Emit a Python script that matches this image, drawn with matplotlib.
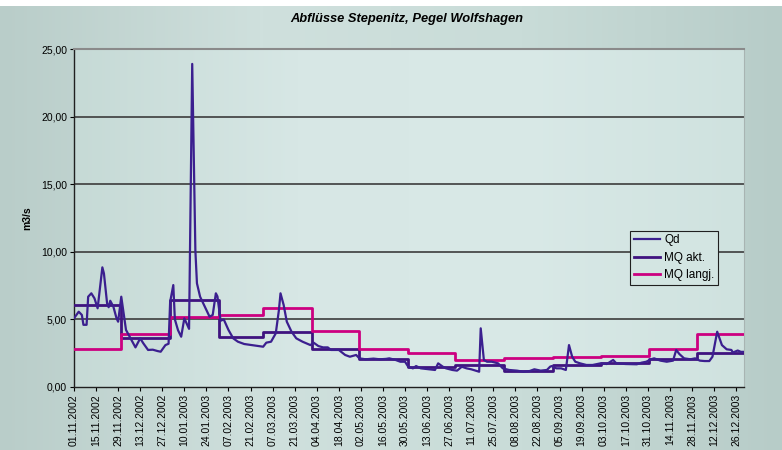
import numpy as np
import pandas as pd
import matplotlib
matplotlib.use("Agg")
import matplotlib.pyplot as plt
from matplotlib.colors import LinearSegmentedColormap

plt.rcParams['font.family'] = ['Liberation Sans', 'DejaVu Sans']

start = pd.Timestamp('2002-11-01')

# daily discharge Qd, read at turning points (day offset from 01.11.2002, m3/s)
qd_days = [0, 3, 5, 6, 8, 9, 11, 13, 15, 18, 19, 21, 22, 23, 25, 27, 28, 30,
           33, 37, 39, 42, 44, 47, 50, 53, 55, 58, 60, 61, 63, 64, 66, 68, 70,
           73, 75, 77, 78, 80, 83, 86, 88, 90, 91, 93, 95, 98, 101, 104, 108,
           113, 117, 120, 122, 125, 128, 130, 131, 133, 135, 138, 141, 145,
           150, 152, 155, 158, 161, 163, 168, 172, 175, 179, 181, 185, 190,
           194, 198, 200, 204, 207, 210, 212, 215, 217, 220, 225, 229, 231,
           234, 236, 240, 243, 246, 249, 252, 257, 258, 260, 262, 265, 269,
           272, 276, 281, 285, 289, 292, 296, 300, 302, 303, 306, 309, 312,
           314, 316, 318, 321, 325, 329, 334, 338, 342, 344, 350, 357, 360,
           363, 366, 368, 372, 376, 380, 382, 384, 387, 391, 394, 397, 400,
           403, 405, 408, 411, 414, 417, 418, 421, 423, 425]
qd_vals = [5.08, 5.57, 5.33, 4.60, 4.60, 6.68, 6.93, 6.56, 5.82, 8.85, 8.40,
           6.19, 5.90, 6.38, 5.94, 5.08, 4.83, 6.68,
           4.22, 3.35, 2.93, 3.60, 3.23, 2.74, 2.76, 2.66, 2.61, 3.10, 3.20,
           6.30, 7.54, 5.00, 4.20, 3.72, 5.08,
           4.30, 23.9, 10.1, 7.67, 6.68, 5.94, 5.20, 5.33, 6.93, 6.70, 4.90,
           5.00, 4.22, 3.60, 3.35, 3.18,
           3.10, 3.03, 2.98, 3.28, 3.35, 3.97, 5.70, 6.93, 6.07, 4.83, 4.09,
           3.60, 3.35,
           3.10, 3.28, 3.03, 2.93, 2.93, 2.74, 2.74, 2.37, 2.24, 2.37, 2.12,
           2.05, 2.10,
           2.05, 2.08, 2.12, 2.00, 1.87, 1.87, 1.50, 1.38, 1.55, 1.38, 1.31,
           1.26, 1.75,
           1.50, 1.38, 1.26, 1.21, 1.50, 1.38, 1.31, 1.13, 4.34, 2.00, 1.87,
           1.87, 1.75,
           1.38, 1.26, 1.21, 1.13, 1.18, 1.31, 1.21, 1.26, 1.50, 1.55, 1.38,
           1.38, 1.26,
           3.10, 2.24, 1.87, 1.75, 1.63, 1.63, 1.75, 1.70, 2.00, 1.75, 1.70,
           1.68, 1.80,
           1.87, 2.05, 2.12, 1.95, 1.87, 1.95, 2.74, 2.44, 2.12, 2.05, 2.12,
           1.95, 1.92,
           1.92, 2.24, 4.09, 3.10, 2.79, 2.74, 2.55, 2.70, 2.60, 2.60]

# monthly mean values (Nov 2002 .. Dec 2003)
months = pd.date_range('2002-11-01', '2003-12-01', freq='MS')
mq_akt = [6.10, 3.60, 6.45, 3.70, 4.05, 2.80, 2.05, 1.45, 1.60, 1.15,
          1.63, 1.75, 2.05, 2.54]
mq_langj = [2.80, 3.92, 5.15, 5.30, 5.82, 4.17, 2.79, 2.49, 1.99, 2.12,
            2.19, 2.29, 2.79, 3.92]

end_day = (pd.Timestamp('2003-12-31') - start).days
month_days = [(m - start).days for m in months] + [end_day]

fig = plt.figure(figsize=(7.82, 4.5), dpi=100)

# figure background gradient
bg = fig.add_axes([0, 0, 1, 0.987], zorder=-10)
bg_cmap = LinearSegmentedColormap.from_list('bg', ['#b9cdc9', '#cfe0dd', '#c9dcd8', '#b7ccc8'])
bg.imshow(np.linspace(0, 1, 256)[None, :], aspect='auto', cmap=bg_cmap,
          extent=[0, 1, 0, 1])
bg.axis('off')

ax = fig.add_axes([0.0946, 0.14, 0.8568, 0.751])
ax.set_xlim(0, end_day)
ax.set_ylim(0, 25)

plot_cmap = LinearSegmentedColormap.from_list('pl', ['#c6dad6', '#d7e7e5', '#d9e9e7', '#cfe2df'])
ax.imshow(np.linspace(0, 1, 256)[None, :], aspect='auto', cmap=plot_cmap,
          extent=[0, end_day, 0, 25], zorder=0)

for yv in [5, 10, 15, 20]:
    ax.axhline(yv, color='#3c3c3c', lw=1.2, zorder=1)

c_qd = '#3b1f8f'
c_akt = '#3f137f'
c_lang = '#cc0080'

ax.plot(qd_days, qd_vals, color=c_qd, lw=1.6, zorder=4, label='Qd')
ax.step(month_days, mq_akt + [mq_akt[-1]], where='post', color=c_akt,
        lw=2.0, zorder=3, label='MQ akt.')
ax.step(month_days, mq_langj + [mq_langj[-1]], where='post', color=c_lang,
        lw=2.0, zorder=3, label='MQ langj.')

ticks = pd.date_range(start, '2003-12-31', freq='14D')
ax.set_xticks([(t - start).days for t in ticks])
ax.set_xticklabels([t.strftime('%d.%m.%Y') for t in ticks], rotation=90,
                   fontsize=7.5)
ax.set_yticks([0, 5, 10, 15, 20, 25])
ax.set_yticklabels(['0,00', '5,00', '10,00', '15,00', '20,00', '25,00'],
                   fontsize=7.5)
ax.tick_params(axis='both', direction='out', length=3, width=0.8, pad=2)

for side in ['left', 'bottom']:
    ax.spines[side].set_color('#202020')
    ax.spines[side].set_linewidth(1.0)
ax.spines['top'].set_color('#8a8a8a')
ax.spines['top'].set_linewidth(1.5)
ax.spines['right'].set_color('#a8b4b2')

ax.set_ylabel('m3/s', fontsize=7.5, fontweight='bold', labelpad=6)

fig.text(0.52, 0.958, 'Abflüsse Stepenitz, Pegel Wolfshagen', ha='center',
         va='center', fontsize=9.3, fontweight='bold', style='italic')

leg = ax.legend(loc='upper left', bbox_to_anchor=(0.83, 0.462), fontsize=8.5,
                frameon=True, fancybox=False, framealpha=1, handlelength=2.2,
                borderpad=0.3, labelspacing=0.45, handletextpad=0.4,
                borderaxespad=0)
leg.get_frame().set_facecolor('#d3e5e2')
leg.get_frame().set_edgecolor('#202020')
leg.get_frame().set_linewidth(0.8)

fig.savefig('out.png', dpi=100)
